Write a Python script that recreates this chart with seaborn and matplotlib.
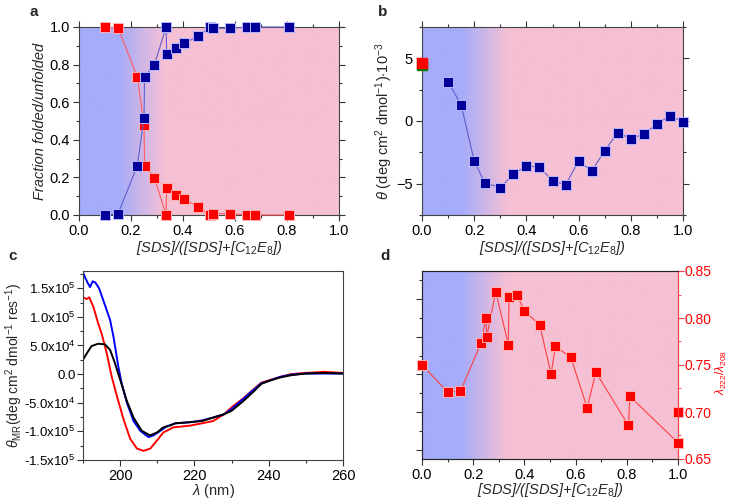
import numpy as np
import pandas as pd
import matplotlib
matplotlib.use("Agg")
import matplotlib.pyplot as plt
from matplotlib.colors import LinearSegmentedColormap
from matplotlib.ticker import MultipleLocator, FormatStrFormatter
import seaborn as sns

# ---- panel a: fraction folded / unfolded ----
folded_x = [0.10, 0.15, 0.224, 0.25, 0.252, 0.29, 0.335, 0.337, 0.372, 0.404,
            0.459, 0.504, 0.517, 0.581, 0.645, 0.677, 0.808]
folded_y = [0.0, 0.005, 0.262, 0.517, 0.736, 0.80, 1.0, 0.855, 0.89, 0.913,
            0.952, 1.0, 0.993, 0.993, 1.0, 1.0, 1.0]
unfolded_x = [0.10, 0.15, 0.224, 0.25, 0.252, 0.29, 0.335, 0.337, 0.372, 0.404,
              0.459, 0.504, 0.517, 0.581, 0.645, 0.677, 0.808]
unfolded_y = [1.0, 0.995, 0.735, 0.48, 0.262, 0.198, 0.0, 0.142, 0.106, 0.083,
              0.044, 0.0, 0.007, 0.007, 0.0, 0.0, 0.0]

# ---- panel b: ellipticity ----
theta_x = [0.10, 0.15, 0.20, 0.24, 0.30, 0.35, 0.40, 0.45, 0.50, 0.55, 0.60,
           0.65, 0.70, 0.75, 0.80, 0.85, 0.90, 0.95, 1.00]
theta_y = [3.13, 1.29, -3.18, -4.92, -5.32, -4.24, -3.58, -3.68, -4.76, -5.10,
           -3.18, -4.00, -2.37, -0.92, -1.42, -1.03, -0.24, 0.42, -0.08]
theta_ref_x = [0.0, 0.0]
theta_ref_y = [4.48, 4.62]

# ---- panel c: CD spectra ----
wl_black = [190, 191, 192.3, 194.1, 195.9, 197.3, 198.6, 200, 201.8, 203.6,
            205.8, 208, 209.9, 211.6, 213.4, 214.8, 218.8, 222, 225, 228, 230,
            233, 236, 238, 240, 243, 246, 250, 255, 260]
cd_black = [0.25, 0.36, 0.49, 0.53, 0.52, 0.42, 0.19, -0.10, -0.47, -0.76,
            -0.99, -1.07, -1.02, -0.93, -0.90, -0.86, -0.84, -0.82, -0.76,
            -0.70, -0.64, -0.48, -0.30, -0.17, -0.12, -0.06, -0.02, 0.01, 0.02,
            0.01]
wl_blue = [190, 190.6, 191.2, 191.9, 192.6, 193.3, 194.3, 195.5, 197.3, 198.2,
           199.5, 200.4, 201.8, 203.6, 205.4, 207.6, 209, 210.8, 212.6, 214.8,
           218.8, 222, 225, 228, 230, 233, 236, 238, 240, 243, 246, 250, 255,
           260]
cd_blue = [1.78, 1.68, 1.60, 1.52, 1.62, 1.60, 1.50, 1.28, 0.94, 0.65, 0.13,
           -0.16, -0.50, -0.82, -0.99, -1.10, -1.07, -0.99, -0.91, -0.86,
           -0.84, -0.81, -0.76, -0.70, -0.61, -0.44, -0.27, -0.16, -0.12,
           -0.05, -0.01, 0.01, 0.01, 0.01]
wl_red = [190, 191, 191.7, 192.8, 194.1, 195, 196.4, 197.7, 199.1, 200.9,
          202.7, 204.5, 206.3, 208.1, 209.9, 211.6, 214.3, 218.8, 222, 225,
          228, 230, 233, 236, 238, 240, 243, 246, 250, 255, 260]
cd_red = [1.34, 1.31, 1.34, 1.17, 0.88, 0.71, 0.36, -0.04, -0.38, -0.79,
          -1.13, -1.30, -1.34, -1.30, -1.16, -1.02, -0.93, -0.90, -0.86, -0.82,
          -0.70, -0.58, -0.43, -0.26, -0.15, -0.11, -0.05, 0.00, 0.02, 0.04,
          0.02]
cd_ticks = [-1.5e5, -1.0e5, -5e4, 0, 5e4, 1.0e5, 1.5e5]
cd_ticklabels = ["-1.5x10$^5$", "-1.0x10$^5$", "-5.0x10$^4$", "0.0",
                 "5.0x10$^4$", "1.0x10$^5$", "1.5x10$^5$"]

# ---- panel d: ratio 222/208 ----
ratio_x = [0.0, 0.10, 0.15, 0.231, 0.25, 0.253, 0.288, 0.337, 0.340, 0.371,
           0.40, 0.46, 0.504, 0.521, 0.581, 0.645, 0.679, 0.806, 0.812, 1.0]
ratio_y = [0.750, 0.7215, 0.7222, 0.7735, 0.8004, 0.7803, 0.828, 0.7718,
           0.8227, 0.8242, 0.8079, 0.7923, 0.7403, 0.7697, 0.7583, 0.7045,
           0.7424, 0.6858, 0.7166, 0.6673]
ratio_extra_x = [1.0]
ratio_extra_y = [0.70]

xlabel_frac = "[SDS]/([SDS]+[C$_{12}$E$_{8}$])"

sns.set_style("ticks")
plt.rcParams["font.family"] = ["Liberation Sans", "DejaVu Sans"]
plt.rcParams["mathtext.fontset"] = "custom"
plt.rcParams["mathtext.rm"] = "Liberation Sans"
plt.rcParams["mathtext.it"] = "Liberation Sans:italic"
plt.rcParams["font.size"] = 10.5
plt.rcParams["xtick.labelsize"] = 10.5
plt.rcParams["ytick.labelsize"] = 10.5

fig = plt.figure(figsize=(7.29, 5.0), dpi=100)
ax_a = fig.add_axes([0.1084, 0.570, 0.3567, 0.376])
ax_b = fig.add_axes([0.5789, 0.570, 0.3580, 0.376])
ax_c = fig.add_axes([0.1139, 0.080, 0.3567, 0.378])
ax_d = fig.add_axes([0.5789, 0.082, 0.3512, 0.376])

bg_cmap = LinearSegmentedColormap.from_list(
    "bg", [(0, "#a5acfa"), (0.15, "#a5acfa"), (0.33, "#f6c0d4"), (1, "#f6c0d4")])


def gradient_bg(ax, ylim):
    grad = np.linspace(0, 1, 400).reshape(1, -1)
    ax.imshow(grad, extent=[0, 1, ylim[0], ylim[1]], aspect="auto",
              cmap=bg_cmap, zorder=0, origin="lower")
    ax.set_xlim(0, 1)
    ax.set_ylim(*ylim)


def style_ticks(ax, mirror=True):
    ax.tick_params(which="both", direction="out", top=mirror, right=mirror,
                   width=0.8, colors="#333333", labelcolor="black", pad=2.5)
    ax.tick_params(which="major", length=4)
    ax.tick_params(which="minor", length=2.5)
    for s in ax.spines.values():
        s.set_color("#444444")
        s.set_linewidth(0.8)


mk = dict(marker="s", markersize=6.5, markeredgewidth=0.7, clip_on=False)

# panel a
gradient_bg(ax_a, (0, 1))
sns.lineplot(x=unfolded_x, y=unfolded_y, sort=False, ax=ax_a, color="#ff5c5c",
             linewidth=0.8, markerfacecolor="#ff0000", markeredgecolor="#ffb3b3",
             zorder=3, **mk)
sns.lineplot(x=folded_x, y=folded_y, sort=False, ax=ax_a, color="#6060cc",
             linewidth=0.8, markerfacecolor="#000099", markeredgecolor="#b8b8ff",
             zorder=4, **mk)
ax_a.xaxis.set_major_locator(MultipleLocator(0.2))
ax_a.xaxis.set_minor_locator(MultipleLocator(0.1))
ax_a.yaxis.set_major_locator(MultipleLocator(0.2))
ax_a.yaxis.set_minor_locator(MultipleLocator(0.1))
ax_a.set_xlabel(xlabel_frac, fontstyle="italic", labelpad=1)
ax_a.set_ylabel("Fraction folded/unfolded", fontstyle="italic", labelpad=2)
style_ticks(ax_a)

# panel b
gradient_bg(ax_b, (-7.5, 7.5))
sns.lineplot(x=theta_x, y=theta_y, sort=False, ax=ax_b, color="#6060cc",
             linewidth=0.8, markerfacecolor="#000099", markeredgecolor="#b8b8ff",
             zorder=4, **mk)
ax_b.plot(theta_ref_x[:1], theta_ref_y[:1], marker="s", ms=6.5, color="#008000",
          clip_on=False, zorder=5, linestyle="none")
ax_b.plot(theta_ref_x[1:], theta_ref_y[1:], marker="s", ms=6.5, color="#ff0000",
          clip_on=False, zorder=6, linestyle="none")
ax_b.xaxis.set_major_locator(MultipleLocator(0.2))
ax_b.xaxis.set_minor_locator(MultipleLocator(0.1))
ax_b.yaxis.set_major_locator(MultipleLocator(5))
ax_b.yaxis.set_minor_locator(MultipleLocator(2.5))
ax_b.set_xlabel(xlabel_frac, fontstyle="italic", labelpad=1)
ax_b.set_ylabel(r"$\theta$ (deg cm$^2$ dmol$^{-1}$)$\cdot$10$^{-3}$", labelpad=1)
style_ticks(ax_b)

# panel c
cd = pd.concat([
    pd.DataFrame({"wl": wl_black, "val": np.array(cd_black) * 1e5, "s": "black"}),
    pd.DataFrame({"wl": wl_blue, "val": np.array(cd_blue) * 1e5, "s": "blue"}),
    pd.DataFrame({"wl": wl_red, "val": np.array(cd_red) * 1e5, "s": "red"}),
])
sns.lineplot(data=cd, x="wl", y="val", hue="s", sort=False, ax=ax_c,
             palette={"black": "black", "blue": "#0000ff", "red": "#ff0000"},
             hue_order=["red", "blue", "black"], linewidth=1.4, legend=False)
ax_c.set_xlim(190, 260)
ax_c.set_ylim(-1.5e5, 1.8e5)
ax_c.set_xticks([200, 220, 240, 260])
ax_c.xaxis.set_minor_locator(MultipleLocator(10))
ax_c.set_yticks(cd_ticks)
ax_c.set_yticklabels(cd_ticklabels)
ax_c.yaxis.set_minor_locator(MultipleLocator(2.5e4))
ax_c.set_xlabel(r"$\lambda$ (nm)", labelpad=-1)
style_ticks(ax_c, mirror=False)
ax_c.tick_params(axis="y", labelsize=9.5, pad=1.5)
ax_c.set_ylabel(r"$\theta_{\rm MR}$(deg cm$^2$ dmol$^{-1}$ res$^{-1}$)",
                fontsize=10)
ax_c.yaxis.set_label_coords(-0.222, 0.5)

# panel d
gradient_bg(ax_d, (0.65, 0.85))
ax_d.set_yticks(np.arange(0.66, 0.85, 0.02), minor=True)
ax_d.set_yticks(np.arange(0.66, 0.85, 0.04))
style_ticks(ax_d, mirror=False)
ax_d.tick_params(axis="y", which="both", labelleft=False)
ax_d.xaxis.set_major_locator(MultipleLocator(0.2))
ax_d.xaxis.set_minor_locator(MultipleLocator(0.1))
ax_d.set_xlabel(xlabel_frac, fontstyle="italic", labelpad=-1)
ax_d2 = ax_d.twinx()
sns.lineplot(x=ratio_x, y=ratio_y, sort=False, ax=ax_d2, color="#ff4040",
             linewidth=0.8, markerfacecolor="#ff0000", markeredgecolor="#ffb3b3",
             zorder=4, **mk)
ax_d2.plot(ratio_extra_x, ratio_extra_y, marker="s", ms=6.5, color="#ff0000",
           markeredgecolor="#ffb3b3", mew=0.7, linestyle="none", clip_on=False)
ax_d2.set_ylim(0.65, 0.85)
ax_d2.yaxis.set_major_locator(MultipleLocator(0.05))
ax_d2.yaxis.set_minor_locator(MultipleLocator(0.025))
ax_d2.tick_params(which="both", direction="out", colors="#ff4040",
                  labelcolor="#ff0000", labelsize=10, pad=0.7)
ax_d2.tick_params(which="major", length=4)
ax_d2.tick_params(which="minor", length=2.5)
ax_d2.yaxis.set_major_formatter(FormatStrFormatter("%.2f"))
ax_d2.spines["right"].set_color("#ff4040")
ax_d2.set_ylabel(r"$\lambda_{222}/\lambda_{208}$", color="#ff0000", fontsize=8.5)
ax_d2.yaxis.set_label_coords(1.14, 0.46)
ax_d2.set_xlim(0, 1)

# panel letters
for txt, (px, py) in zip("abcd", [(0.041, 0.975), (0.518, 0.975),
                                  (0.012, 0.487), (0.522, 0.487)]):
    fig.text(px, py, txt, fontsize=11, fontweight="bold", va="center")

fig.savefig("out.png", dpi=100)
